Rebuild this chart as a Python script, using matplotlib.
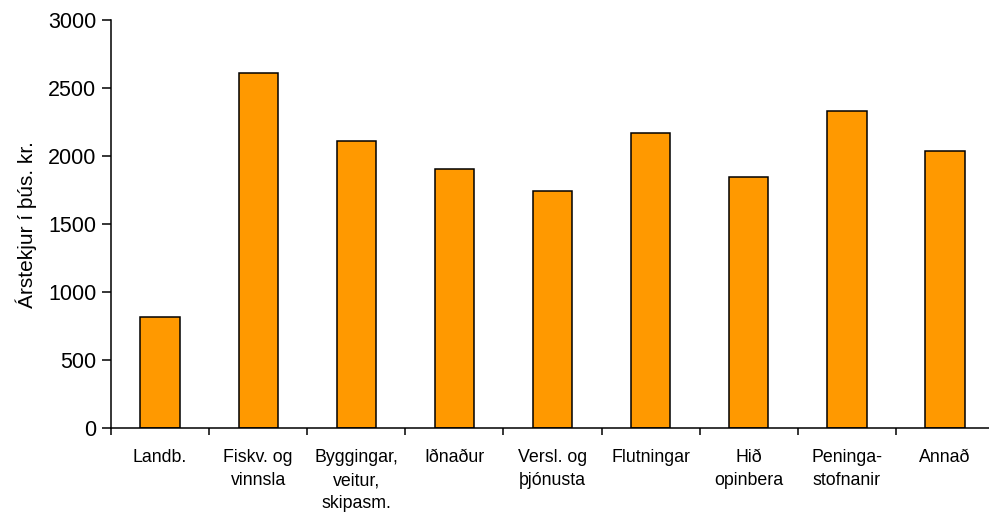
import matplotlib
matplotlib.use("Agg")
import matplotlib.pyplot as plt
import numpy as np

plt.rcParams['font.family'] = ['Liberation Sans', 'DejaVu Sans']

# categories and yearly income (thousand kr.)
categories = ['Landb.', 'Fiskv. og\nvinnsla', 'Byggingar,\nveitur,\nskipasm.', 'Iðnaður',
              'Versl. og\nþjónusta', 'Flutningar', 'Hið\nopinbera', 'Peninga-\nstofnanir', 'Annað']
income = [820, 2615, 2115, 1907, 1745, 2174, 1850, 2335, 2041]
yticks = [0, 500, 1000, 1500, 2000, 2500, 3000]

fig = plt.figure(figsize=(9.89, 5.15), dpi=100)
ax = fig.add_axes([0.1122, 0.1683, 0.893, 0.7923])

x = np.arange(len(categories))
ax.bar(x, income, width=0.4, color='#FF9900', edgecolor='black', linewidth=1.1, zorder=2)

ax.set_xlim(-0.5, len(categories) - 0.5)
ax.set_ylim(0, 3000)
ax.set_yticks(yticks)

# labels at category centers, tick marks between categories
ax.set_xticks(x)
ax.set_xticklabels(categories, fontsize=12.8, va='top')
for lab in ax.get_xticklabels():
    lab.set_linespacing(1.45)
ax.tick_params(axis='x', which='major', length=0, pad=15)
ax.set_xticks(np.arange(-0.5, len(categories)), minor=True)
ax.tick_params(axis='x', which='minor', length=5, width=1.1, direction='out')
ax.tick_params(axis='y', labelsize=15.5, length=6.5, width=1.1, pad=4)

ax.set_ylabel('Árstekjur í þús. kr.', fontsize=15, labelpad=8)

for side in ['top', 'right']:
    ax.spines[side].set_visible(False)
for side in ['left', 'bottom']:
    ax.spines[side].set_linewidth(1.1)

fig.savefig('out.png', dpi=100)
